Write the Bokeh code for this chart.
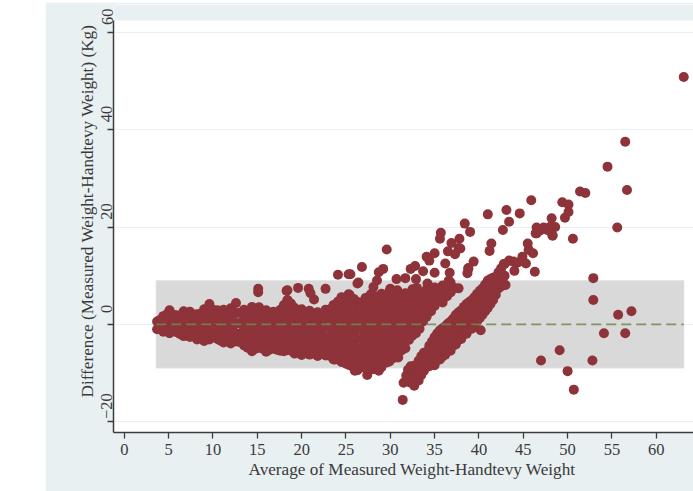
from bokeh.embed import file_html
from bokeh.resources import INLINE
from bokeh.plotting import figure
from bokeh.models import Range1d, FixedTicker, LinearAxis, Title, ColumnDataSource

x_ticks = [0, 5, 10, 15, 20, 25, 30, 35, 40, 45, 50, 55, 60]
y_ticks = [-20, 0, 20, 40, 60]
x_title = "Average of Measured Weight-Handtevy Weight"
y_title = "Difference (Measured Weight-Handtevy Weight) (Kg)"

mean_diff = 0.0
limit_upper = 8.96
limit_lower = -8.94
band_start = 3.6
band_end = 63.1

# main cloud, read column by column
cloud_avg = [3.7, 4.4, 5.1, 5.9, 6.7, 7.4, 8.2, 9.0, 9.6, 10.5, 11.2, 12.0, 12.6, 13.5, 14.4, 15.2,
             16.0, 16.8, 17.6, 18.4, 19.2, 20.0, 20.9, 21.8, 22.7, 23.6, 24.5, 25.4, 26.3, 27.2,
             28.1, 29.0, 29.9, 30.8, 31.7, 32.5, 33.3, 34.1, 35.0, 35.9, 36.8]
cloud_diff = [
    [0.6, -1.0], [1.7, 0.1, -1.5], [2.9, 1.2, -0.4, -1.8], [1.9, 0.2, -1.6], [2.7, 1.0, -0.8, -2.4],
    [2.6, 0.6, -1.2, -2.6], [2.1, 0.1, -1.8, -3.1], [3.1, 1.2, -0.9, -3.4], [4.2, 2.2, 0.2, -1.9, -3.1],
    [2.9, 1.1, -1.0, -3.0], [3.0, 1.2, -0.9, -2.8, -3.7], [3.3, 1.5, -0.5, -2.4, -3.9],
    [4.4, 2.3, 0.2, -1.8, -3.5], [3.0, 1.2, -0.9, -2.9, -4.3], [3.6, 1.5, -0.4, -2.5, -4.4, -5.5],
    [3.5, 1.4, -0.6, -2.6, -4.2], [2.9, 1.0, -1.1, -3.1, -4.7, -5.6], [2.6, 0.7, -1.3, -3.2, -4.6],
    [3.0, 1.1, -0.9, -2.9, -4.8, -5.4], [5.0, 3.1, 1.2, -0.7, -2.6, -4.4, -5.3],
    [3.4, 1.4, -0.6, -2.5, -4.5, -6.0], [3.1, 1.2, -0.8, -2.7, -4.6, -6.3],
    [2.8, 0.9, -1.0, -2.9, -4.8, -6.2], [2.5, 0.6, -1.3, -3.2, -5.1, -6.5],
    [3.0, 1.1, -0.8, -2.7, -4.6, -6.4], [4.0, 2.1, 0.2, -1.7, -3.6, -5.5, -7.2],
    [5.6, 3.7, 1.8, -0.1, -2.0, -3.9, -5.8, -7.7], [6.1, 4.2, 2.3, 0.4, -1.5, -3.4, -5.3, -7.2, -8.4],
    [4.6, 2.7, 0.8, -1.1, -3.0, -4.9, -6.8, -8.6, -9.4], [5.4, 3.5, 1.6, -0.3, -2.2, -4.1, -6.0, -7.9, -9.0],
    [6.0, 4.1, 2.2, 0.3, -1.6, -3.5, -5.4, -7.3, -9.2], [6.3, 4.4, 2.5, 0.6, -1.3, -3.2, -5.1, -7.0, -8.8],
    [6.8, 4.9, 3.0, 1.1, -0.8, -2.7, -4.6, -6.5, -7.6], [7.0, 5.1, 3.2, 1.3, -0.6, -2.5, -4.4, -6.3],
    [6.4, 4.5, 2.6, 0.7, -1.2, -3.1, -4.9], [7.2, 5.3, 3.4, 1.5, -0.4, -2.3],
    [6.4, 4.5, 2.6, 0.7, -0.9], [7.2, 5.3, 3.4, 1.6], [7.6, 5.7, 3.8], [8.0, 6.1, 4.5], [8.6, 6.6],
]

# points lying between those columns
between_avg = [4.0, 4.8, 5.5, 6.3, 7.0, 7.8, 8.6, 9.3, 10.0, 10.8, 11.6, 12.3, 13.0, 13.9, 14.8, 15.6,
               16.4, 17.2, 18.0, 18.8, 19.6, 20.5, 21.4, 22.3, 23.2, 24.1, 25.0, 25.9, 26.8, 27.7,
               28.6, 29.5, 30.4, 31.3, 32.1, 32.9, 33.7, 34.6, 35.5, 36.4, 37.2]
between_diff = [
    [0.9, -0.8], [2.1, 0.5, -1.0], [2.0, 0.6, -1.1], [1.8, 0.6, -1.1, -2.0], [1.9, 0.0, -1.7],
    [1.6, -0.3, -2.1], [2.2, 0.2, -1.2, -2.7], [2.3, 0.3, -1.5, -2.9], [3.0, 1.2, -0.8, -2.5],
    [2.0, 0.1, -2.0, -3.3], [2.2, 0.3, -1.8, -3.4], [2.6, 0.5, -1.5, -3.0], [2.4, 0.3, -1.9, -3.6],
    [2.5, 0.4, -1.7, -3.6, -4.8], [2.7, 0.6, -1.5, -3.5, -5.0], [2.0, 0.0, -2.0, -4.0, -5.0],
    [1.8, -0.3, -2.2, -4.0, -5.2], [2.0, 0.0, -2.0, -3.9, -5.2], [4.0, 2.1, 0.1, -1.9, -3.8, -5.5],
    [4.3, 2.2, 0.3, -1.6, -3.5, -5.4], [2.4, 0.4, -1.5, -3.5, -5.4], [2.1, 0.2, -1.8, -3.7, -5.6],
    [1.6, -0.3, -2.2, -4.1, -5.9], [2.0, 0.1, -1.8, -3.7, -5.6], [3.1, 1.2, -0.8, -2.7, -4.6, -6.5],
    [4.7, 2.8, 0.9, -1.0, -2.9, -4.8, -6.8], [5.0, 3.1, 1.2, -0.7, -2.6, -4.5, -6.4, -8.0],
    [5.2, 3.3, 1.4, -0.5, -2.4, -4.3, -6.2, -8.0], [4.5, 2.6, 0.7, -1.2, -3.1, -5.0, -6.9, -8.5],
    [5.0, 3.1, 1.2, -0.7, -2.6, -4.5, -6.4, -8.3], [5.2, 3.3, 1.4, -0.5, -2.4, -4.3, -6.2, -8.1],
    [5.6, 3.7, 1.8, -0.1, -2.0, -3.9, -5.8, -7.4], [6.0, 4.1, 2.2, 0.3, -1.6, -3.5, -5.4, -6.9],
    [5.8, 3.9, 2.0, 0.1, -1.8, -3.7, -5.3], [6.3, 4.4, 2.5, 0.6, -1.3, -3.2], [5.6, 3.7, 1.8, -0.1, -1.8],
    [6.3, 4.4, 2.5, 0.6], [6.5, 4.6, 2.7], [6.9, 5.0], [7.5, 5.8], [7.5],
]

# second, lower diagonal streak
streak_avg = [31.5, 31.8, 32.0, 32.3, 32.5, 32.7, 33.0, 33.2, 33.5, 33.8, 34.1, 34.4, 34.7, 35.0, 35.3,
              35.6, 35.9, 36.2, 36.5, 36.8, 37.1, 37.4, 37.7, 38.0, 38.3, 38.6, 38.9, 39.2, 39.5,
              39.8, 40.1, 40.4, 40.7, 41.0, 41.3, 41.6, 41.9, 42.2, 42.5, 42.9]
streak_diff = [
    [-12.0], [-10.5], [-11.2, -9.3], [-12.0, -10.2, -8.6], [-11.4, -9.5], [-12.6, -10.6, -8.5],
    [-10.5, -8.4], [-11.5, -9.6, -7.4], [-10.4, -8.6, -6.5], [-9.5, -7.8, -5.8], [-7.7, -5.6],
    [-8.6, -6.7, -4.4], [-7.5, -5.6, -3.5], [-8.4, -6.5, -4.6, -2.6], [-7.3, -5.4, -3.5, -1.8],
    [-7.2, -5.3, -3.4, -1.2], [-6.6, -4.7, -2.8, -0.8], [-6.2, -4.3, -2.4, -0.4], [-4.9, -3.0, -1.0, 0.2],
    [-5.4, -3.5, -1.6, 0.6], [-4.4, -2.6, -0.6, 1.2], [-4.1, -2.2, -0.3, 2.0], [-3.2, -1.2, 0.8, 2.5],
    [-3.0, -1.1, 0.8, 2.9], [-2.0, 0.0, 1.8, 3.6], [-1.9, 0.0, 1.9, 4.2], [-1.0, 0.9, 2.8, 4.6],
    [-0.9, 1.0, 2.9, 5.0], [0.0, 1.9, 3.8, 5.6], [0.7, 2.6, 4.5, 6.3], [1.3, 3.2, 5.0, 6.9],
    [2.0, 3.7, 5.6, 7.4], [2.7, 4.6, 6.5, 8.2], [3.4, 5.3, 7.2, 9.0], [4.2, 6.1, 8.0, 9.3],
    [5.0, 6.9, 8.8, 9.6], [6.1, 8.0, 9.8], [7.4, 9.3, 10.7], [7.8, 9.6, 11.5], [8.1, 10.0, 12.4],
]

# separately visible points
single_avg = [63.1, 56.5, 54.5, 56.7, 55.6, 51.4, 52.0, 45.9, 49.4, 50.1, 50.1, 49.7, 48.2, 50.6,
              44.6, 43.1, 41.0, 43.4, 42.7, 38.4, 39.0, 35.7, 35.6, 37.8, 36.9, 41.4, 45.5,
              46.5, 47.3, 48.0, 48.6, 46.5, 48.3, 46.9, 47.7,
              41.2, 39.4, 38.8, 38.7, 37.9, 45.6, 46.1, 46.3, 44.9, 45.3, 44.4, 44.0, 43.4, 42.8, 43.9,
              43.0, 42.1, 46.4, 48.3,
              37.7, 36.5, 37.3, 35.0, 34.1, 34.4, 29.6, 26.8, 29.2, 28.7, 36.2, 32.8, 32.3, 33.7, 35.0,
              36.7, 38.8, 25.5, 26.3, 28.5, 28.1, 30.7, 31.7, 32.9, 34.2, 33.0, 36.6, 36.4, 37.7, 35.5,
              36.8, 34.9, 30.0, 32.1, 29.3, 27.8, 30.8, 33.5,
              24.1, 25.3, 26.4, 18.4, 19.6, 20.8, 22.7, 21.0, 21.4, 18.4, 25.3, 15.1, 15.1, 18.3,
              26.0, 27.4, 27.4, 28.7, 25.1, 23.8, 29.6, 30.9,
              47.0, 49.1, 50.0, 50.7, 52.8, 52.9, 52.9, 54.1, 55.7, 57.2, 56.5, 40.2, 31.4]
single_diff = [50.8, 37.5, 32.4, 27.6, 19.9, 27.3, 27.0, 25.5, 25.1, 24.6, 23.1, 21.9, 21.8, 17.6,
               22.8, 23.5, 22.6, 21.1, 19.4, 20.7, 19.0, 18.8, 17.6, 17.6, 16.7, 16.6, 16.6,
               19.9, 19.9, 20.0, 20.0, 18.7, 18.3, 19.3, 19.4,
               15.1, 12.9, 11.6, 10.5, 15.6, 15.3, 14.6, 10.8, 13.9, 12.5, 12.7, 11.0, 13.1, 12.4, 12.9,
               8.1, 9.6, 18.7, 18.2,
               15.7, 15.0, 14.4, 14.6, 13.9, 13.1, 15.4, 11.8, 11.4, 10.7, 12.5, 12.0, 11.4, 10.9, 10.6,
               10.6, 11.4, 10.3, 8.4, 9.0, 7.7, 9.3, 9.5, 9.3, 8.4, 7.5, 9.0, 7.9, 7.4, 6.9,
               6.6, 5.9, 7.3, 5.9, 5.9, 6.2, 5.5, 5.5,
               10.2, 10.3, 8.6, 7.0, 7.5, 7.3, 7.3, 6.4, 5.1, 4.9, 6.2, 7.3, 6.6, 6.9,
               -9.5, -9.0, -10.4, -9.5, -8.1, -7.2, -7.8, -6.8,
               -7.4, -5.3, -9.6, -13.4, -7.4, 9.5, 5.0, -1.8, 2.0, 2.7, -1.8, -1.2, -15.5]

FONT = "Liberation Serif"
TICK_SIZE = "16.5px"
TITLE_SIZE = "17.2px"
TEXT = "#3a3a3a"
BG = "#e8f0f2"
DOT = "#8e3339"

avg, diff = [], []
for col_avg, col_diff in ((cloud_avg, cloud_diff), (between_avg, between_diff), (streak_avg, streak_diff)):
    for col_x, col_y in zip(col_avg, col_diff):
        avg += [col_x] * len(col_y)
        diff += col_y
avg += single_avg
diff += single_diff

X0, X1 = -1.22, 64.2
Y0, Y_PLOT_TOP, Y1 = -22.2, 62.4, 65.7
LABEL_SHIFT = 3.2

p = figure(width=648, height=489, output_backend="svg", toolbar_location=None,
           x_range=Range1d(X0, X1), y_range=Range1d(Y0, Y1),
           min_border_left=68, min_border_right=0, min_border_top=2, min_border_bottom=59,
           background_fill_color="white", border_fill_color=BG, outline_line_color=None)
p.margin = (2, 0, 0, 45)

p.xgrid.visible = False
p.ygrid.ticker = FixedTicker(ticks=y_ticks)
p.ygrid.grid_line_color = "#e9f1f4"
p.ygrid.grid_line_width = 1.2

p.xaxis.ticker = FixedTicker(ticks=x_ticks)
p.yaxis.ticker = FixedTicker(ticks=y_ticks)
p.yaxis.bounds = (Y0, Y_PLOT_TOP)
for ax in (p.xaxis[0], p.yaxis[0]):
    ax.axis_line_color = "#3c3c3c"
    ax.axis_line_width = 1.5
    ax.major_tick_line_color = "#3c3c3c"
    ax.major_tick_line_width = 1.3
    ax.major_tick_out = 6
    ax.major_tick_in = 0
    ax.minor_tick_line_color = None
p.xaxis.major_label_text_font = FONT
p.xaxis.major_label_text_font_size = TICK_SIZE
p.xaxis.major_label_text_color = TEXT
p.xaxis.major_label_standoff = 5
p.yaxis.major_label_text_font_size = "1px"
p.yaxis.major_label_text_color = None
p.yaxis.major_label_standoff = 0

# the reference prints its y labels above their ticks: a second axis, shifted, carries them
p.extra_y_ranges = {"labels": Range1d(Y0 - LABEL_SHIFT, Y1 - LABEL_SHIFT)}
label_axis = LinearAxis(y_range_name="labels", ticker=FixedTicker(ticks=y_ticks),
                        axis_line_color=None, major_tick_line_color=None, minor_tick_line_color=None,
                        major_label_orientation="vertical", major_label_standoff=-11,
                        major_label_text_font=FONT, major_label_text_font_size=TICK_SIZE,
                        major_label_text_color=TEXT)
p.add_layout(label_axis, "left")

p.add_layout(Title(text=y_title, align="left", offset=35, standoff=3, text_font=FONT, text_font_size=TITLE_SIZE,
                   text_font_style="normal", text_color=TEXT), "left")
p.add_layout(Title(text=x_title, align="left", offset=135, standoff=1, text_font=FONT, text_font_size=TITLE_SIZE,
                   text_font_style="normal", text_color=TEXT), "below")

# strip above the plot region
p.quad(left=[X0], right=[X1], bottom=[Y_PLOT_TOP], top=[Y1], fill_color=BG, line_color=None)
p.quad(left=[band_start], right=[band_end], top=[limit_upper], bottom=[limit_lower],
       fill_color="#d9d9d9", line_color="#dedede")

src = ColumnDataSource(dict(avg=avg, diff=diff))
p.scatter("avg", "diff", source=src, size=10, fill_color=DOT, line_color=None)
p.line([band_start, band_end], [mean_diff, mean_diff], line_color="#6f8a4e", line_alpha=0.85,
       line_width=1.6, line_dash="10 5")

open("out.html", "w").write(file_html(p, INLINE))
